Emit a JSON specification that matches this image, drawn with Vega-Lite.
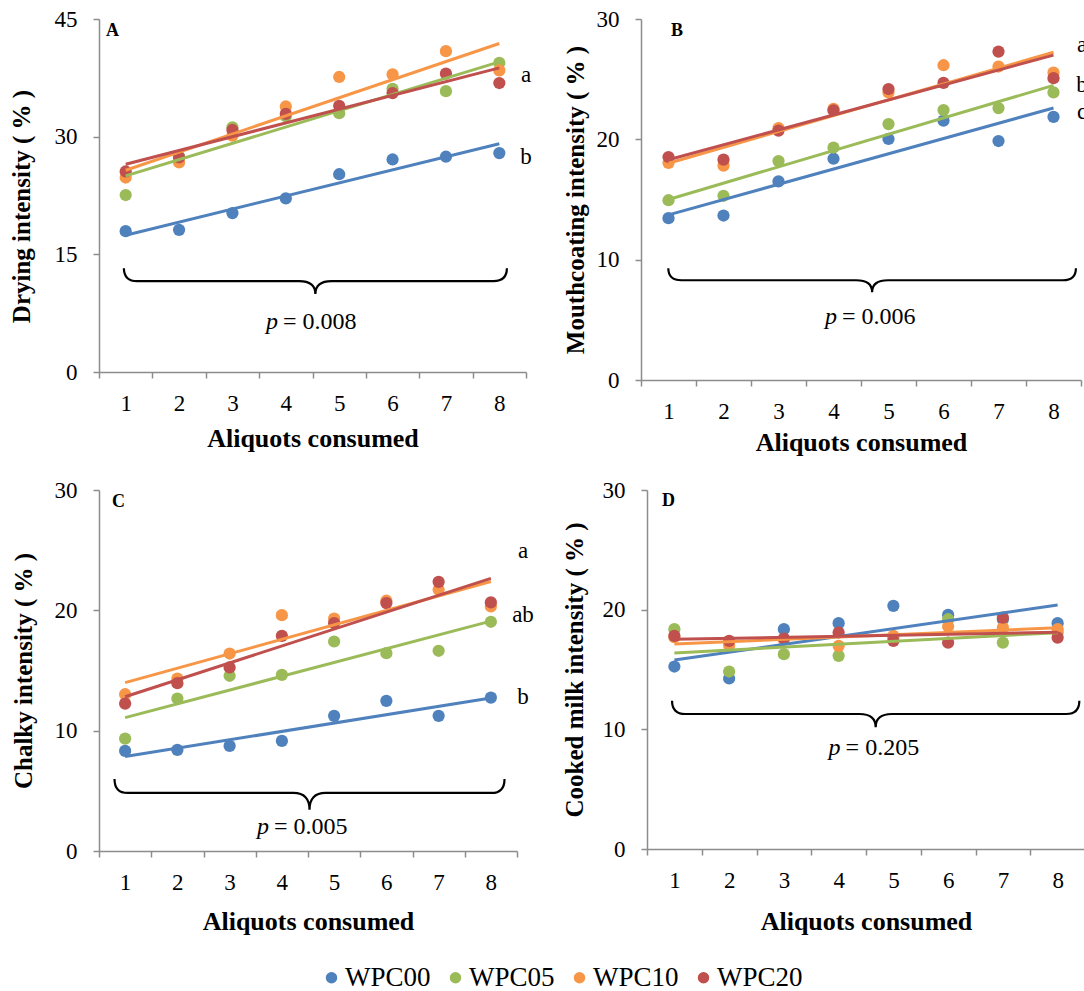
{
  "$schema": "https://vega.github.io/schema/vega-lite/v6.json",
  "padding": {"left": 9, "top": 8, "right": 0, "bottom": 0},
  "background": "white",
  "datasets": {
    "pts": [
      {"panel": "A", "series": "WPC00", "x": 1, "y": 17.95}, {"panel": "A", "series": "WPC00", "x": 2, "y": 18.12}, {"panel": "A", "series": "WPC00", "x": 3, "y": 20.26}, {"panel": "A", "series": "WPC00", "x": 4, "y": 22.14}, {"panel": "A", "series": "WPC00", "x": 5, "y": 25.21}, {"panel": "A", "series": "WPC00", "x": 6, "y": 27.09}, {"panel": "A", "series": "WPC00", "x": 7, "y": 27.44}, {"panel": "A", "series": "WPC00", "x": 8, "y": 27.91},
      {"panel": "A", "series": "WPC05", "x": 1, "y": 22.56}, {"panel": "A", "series": "WPC05", "x": 2, "y": 27.5}, {"panel": "A", "series": "WPC05", "x": 3, "y": 31.2}, {"panel": "A", "series": "WPC05", "x": 4, "y": 32.6}, {"panel": "A", "series": "WPC05", "x": 5, "y": 33.0}, {"panel": "A", "series": "WPC05", "x": 6, "y": 36.1}, {"panel": "A", "series": "WPC05", "x": 7, "y": 35.8}, {"panel": "A", "series": "WPC05", "x": 8, "y": 39.4},
      {"panel": "A", "series": "WPC10", "x": 1, "y": 24.79}, {"panel": "A", "series": "WPC10", "x": 2, "y": 26.71}, {"panel": "A", "series": "WPC10", "x": 3, "y": 30.13}, {"panel": "A", "series": "WPC10", "x": 4, "y": 33.85}, {"panel": "A", "series": "WPC10", "x": 5, "y": 37.61}, {"panel": "A", "series": "WPC10", "x": 6, "y": 37.95}, {"panel": "A", "series": "WPC10", "x": 7, "y": 40.9}, {"panel": "A", "series": "WPC10", "x": 8, "y": 38.46},
      {"panel": "A", "series": "WPC20", "x": 1, "y": 25.56}, {"panel": "A", "series": "WPC20", "x": 2, "y": 27.35}, {"panel": "A", "series": "WPC20", "x": 3, "y": 30.85}, {"panel": "A", "series": "WPC20", "x": 4, "y": 32.91}, {"panel": "A", "series": "WPC20", "x": 5, "y": 33.93}, {"panel": "A", "series": "WPC20", "x": 6, "y": 35.56}, {"panel": "A", "series": "WPC20", "x": 7, "y": 38.03}, {"panel": "A", "series": "WPC20", "x": 8, "y": 36.84},
      {"panel": "B", "series": "WPC00", "x": 1, "y": 13.45}, {"panel": "B", "series": "WPC00", "x": 2, "y": 13.67}, {"panel": "B", "series": "WPC00", "x": 3, "y": 16.5}, {"panel": "B", "series": "WPC00", "x": 4, "y": 18.39}, {"panel": "B", "series": "WPC00", "x": 5, "y": 20.03}, {"panel": "B", "series": "WPC00", "x": 6, "y": 21.55}, {"panel": "B", "series": "WPC00", "x": 7, "y": 19.86}, {"panel": "B", "series": "WPC00", "x": 8, "y": 21.86},
      {"panel": "B", "series": "WPC05", "x": 1, "y": 14.94}, {"panel": "B", "series": "WPC05", "x": 2, "y": 15.31}, {"panel": "B", "series": "WPC05", "x": 3, "y": 18.19}, {"panel": "B", "series": "WPC05", "x": 4, "y": 19.32}, {"panel": "B", "series": "WPC05", "x": 5, "y": 21.27}, {"panel": "B", "series": "WPC05", "x": 6, "y": 22.43}, {"panel": "B", "series": "WPC05", "x": 7, "y": 22.6}, {"panel": "B", "series": "WPC05", "x": 8, "y": 23.9},
      {"panel": "B", "series": "WPC10", "x": 1, "y": 18.05}, {"panel": "B", "series": "WPC10", "x": 2, "y": 17.82}, {"panel": "B", "series": "WPC10", "x": 3, "y": 20.93}, {"panel": "B", "series": "WPC10", "x": 4, "y": 22.54}, {"panel": "B", "series": "WPC10", "x": 5, "y": 23.9}, {"panel": "B", "series": "WPC10", "x": 6, "y": 26.16}, {"panel": "B", "series": "WPC10", "x": 7, "y": 26.05}, {"panel": "B", "series": "WPC10", "x": 8, "y": 25.54},
      {"panel": "B", "series": "WPC20", "x": 1, "y": 18.53}, {"panel": "B", "series": "WPC20", "x": 2, "y": 18.31}, {"panel": "B", "series": "WPC20", "x": 3, "y": 20.73}, {"panel": "B", "series": "WPC20", "x": 4, "y": 22.4}, {"panel": "B", "series": "WPC20", "x": 5, "y": 24.18}, {"panel": "B", "series": "WPC20", "x": 6, "y": 24.69}, {"panel": "B", "series": "WPC20", "x": 7, "y": 27.29}, {"panel": "B", "series": "WPC20", "x": 8, "y": 25.08},
      {"panel": "C", "series": "WPC00", "x": 1, "y": 8.32}, {"panel": "C", "series": "WPC00", "x": 2, "y": 8.4}, {"panel": "C", "series": "WPC00", "x": 3, "y": 8.73}, {"panel": "C", "series": "WPC00", "x": 4, "y": 9.15}, {"panel": "C", "series": "WPC00", "x": 5, "y": 11.23}, {"panel": "C", "series": "WPC00", "x": 6, "y": 12.48}, {"panel": "C", "series": "WPC00", "x": 7, "y": 11.23}, {"panel": "C", "series": "WPC00", "x": 8, "y": 12.75},
      {"panel": "C", "series": "WPC05", "x": 1, "y": 9.34}, {"panel": "C", "series": "WPC05", "x": 2, "y": 12.67}, {"panel": "C", "series": "WPC05", "x": 3, "y": 14.56}, {"panel": "C", "series": "WPC05", "x": 4, "y": 14.64}, {"panel": "C", "series": "WPC05", "x": 5, "y": 17.41}, {"panel": "C", "series": "WPC05", "x": 6, "y": 16.44}, {"panel": "C", "series": "WPC05", "x": 7, "y": 16.64}, {"panel": "C", "series": "WPC05", "x": 8, "y": 19.05},
      {"panel": "C", "series": "WPC10", "x": 1, "y": 13.03}, {"panel": "C", "series": "WPC10", "x": 2, "y": 14.33}, {"panel": "C", "series": "WPC10", "x": 3, "y": 16.41}, {"panel": "C", "series": "WPC10", "x": 4, "y": 19.6}, {"panel": "C", "series": "WPC10", "x": 5, "y": 19.32}, {"panel": "C", "series": "WPC10", "x": 6, "y": 20.8}, {"panel": "C", "series": "WPC10", "x": 7, "y": 21.71}, {"panel": "C", "series": "WPC10", "x": 8, "y": 20.32},
      {"panel": "C", "series": "WPC20", "x": 1, "y": 12.25}, {"panel": "C", "series": "WPC20", "x": 2, "y": 13.95}, {"panel": "C", "series": "WPC20", "x": 3, "y": 15.25}, {"panel": "C", "series": "WPC20", "x": 4, "y": 17.88}, {"panel": "C", "series": "WPC20", "x": 5, "y": 18.94}, {"panel": "C", "series": "WPC20", "x": 6, "y": 20.6}, {"panel": "C", "series": "WPC20", "x": 7, "y": 22.37}, {"panel": "C", "series": "WPC20", "x": 8, "y": 20.66},
      {"panel": "D", "series": "WPC00", "x": 1, "y": 15.25}, {"panel": "D", "series": "WPC00", "x": 2, "y": 14.25}, {"panel": "D", "series": "WPC00", "x": 3, "y": 18.37}, {"panel": "D", "series": "WPC00", "x": 4, "y": 18.87}, {"panel": "D", "series": "WPC00", "x": 5, "y": 20.32}, {"panel": "D", "series": "WPC00", "x": 6, "y": 19.56}, {"panel": "D", "series": "WPC00", "x": 7, "y": 19.2}, {"panel": "D", "series": "WPC00", "x": 8, "y": 18.87},
      {"panel": "D", "series": "WPC05", "x": 1, "y": 18.37}, {"panel": "D", "series": "WPC05", "x": 2, "y": 14.83}, {"panel": "D", "series": "WPC05", "x": 3, "y": 16.28}, {"panel": "D", "series": "WPC05", "x": 4, "y": 16.14}, {"panel": "D", "series": "WPC05", "x": 5, "y": 17.67}, {"panel": "D", "series": "WPC05", "x": 6, "y": 19.2}, {"panel": "D", "series": "WPC05", "x": 7, "y": 17.25}, {"panel": "D", "series": "WPC05", "x": 8, "y": 18.09},
      {"panel": "D", "series": "WPC10", "x": 1, "y": 17.7}, {"panel": "D", "series": "WPC10", "x": 2, "y": 17.03}, {"panel": "D", "series": "WPC10", "x": 3, "y": 17.5}, {"panel": "D", "series": "WPC10", "x": 4, "y": 16.98}, {"panel": "D", "series": "WPC10", "x": 5, "y": 17.81}, {"panel": "D", "series": "WPC10", "x": 6, "y": 18.59}, {"panel": "D", "series": "WPC10", "x": 7, "y": 18.5}, {"panel": "D", "series": "WPC10", "x": 8, "y": 18.37},
      {"panel": "D", "series": "WPC20", "x": 1, "y": 17.81}, {"panel": "D", "series": "WPC20", "x": 2, "y": 17.39}, {"panel": "D", "series": "WPC20", "x": 3, "y": 17.59}, {"panel": "D", "series": "WPC20", "x": 4, "y": 18.09}, {"panel": "D", "series": "WPC20", "x": 5, "y": 17.39}, {"panel": "D", "series": "WPC20", "x": 6, "y": 17.25}, {"panel": "D", "series": "WPC20", "x": 7, "y": 19.34}, {"panel": "D", "series": "WPC20", "x": 8, "y": 17.67}
    ],
    "braces": [
      {"panel": "A", "x": 4.554, "y": 11.58},
      {"panel": "B", "x": 4.702, "y": 8.29},
      {"panel": "C", "x": 4.529, "y": 4.71},
      {"panel": "D", "x": 4.677, "y": 11.28}
    ],
    "pvals": [
      {"panel": "A", "x": 3.854, "y": 6.34, "t": "= 0.008"},
      {"panel": "B", "x": 4.064, "y": 5.26, "t": "= 0.006"},
      {"panel": "C", "x": 3.754, "y": 1.97, "t": "= 0.005"},
      {"panel": "D", "x": 4.036, "y": 8.41, "t": "= 0.205"}
    ],
    "groups": [
      {"panel": "A", "x": 8.5, "y": 36.93, "label": "a"},
      {"panel": "A", "x": 8.5, "y": 26.52, "label": "b"},
      {"panel": "B", "x": 8.52, "y": 27.23, "label": "a"},
      {"panel": "B", "x": 8.52, "y": 23.93, "label": "b"},
      {"panel": "B", "x": 8.52, "y": 21.69, "label": "c"},
      {"panel": "C", "x": 8.615, "y": 24.33, "label": "a"},
      {"panel": "C", "x": 8.615, "y": 19.06, "label": "ab"},
      {"panel": "C", "x": 8.615, "y": 12.22, "label": "b"}
    ],
    "letters": [
      {"panel": "A", "x": 0.631, "y": 42.83, "label": "A"},
      {"panel": "B", "x": 1.045, "y": 28.61, "label": "B"},
      {"panel": "C", "x": 0.749, "y": 28.59, "label": "C"},
      {"panel": "D", "x": 0.774, "y": 28.66, "label": "D"}
    ]
  },
  "vconcat": [
    {
      "hconcat": [
        {
          "width": 427, "height": 353,
          "encoding": {
            "x": {"field": "x", "type": "quantitative", "scale": {"domain": [0.5, 8.5], "nice": false, "zero": false}, "axis": {"title": "Aliquots consumed", "values": [0.5, 1.5, 2.5, 3.5, 4.5, 5.5, 6.5, 7.5, 8.5], "labelExpr": "datum.value < 8 ? '' + (datum.value + 0.5) : ''", "labelOffset": 26.7, "labelFlush": false, "labelPadding": 14, "titlePadding": 10, "titleFontSize": 26}},
            "y": {"field": "y", "type": "quantitative", "scale": {"domain": [0, 45], "nice": false}, "axis": {"title": "Drying intensity ( % )", "values": [0, 15, 30, 45], "labelPadding": 16, "titlePadding": 20, "titleY": 187}}
          },
          "layer": [
            {"data": {"name": "pts"}, "transform": [{"filter": "datum.panel === 'A'"}], "mark": {"type": "circle", "size": 150, "opacity": 1},
             "encoding": {"color": {"field": "series", "type": "nominal", "scale": {"domain": ["WPC00", "WPC05", "WPC10", "WPC20"], "range": ["#4F81BD", "#9BBB59", "#F79646", "#C0504D"]},
               "legend": {"title": null, "orient": "none", "legendX": 219, "legendY": 945, "direction": "horizontal", "columns": 4, "symbolType": "circle", "symbolSize": 100, "labelFont": "Liberation Serif", "labelFontSize": 27, "labelColor": "#000", "labelOffset": 0, "columnPadding": 11, "labelLimit": 300, "padding": 0}}}},
            {"data": {"name": "pts"}, "transform": [{"filter": "datum.panel === 'A'"}, {"regression": "y", "on": "x", "groupby": ["series"], "extent": [1, 8]}], "mark": {"type": "line", "strokeWidth": 3},
             "encoding": {"color": {"field": "series", "type": "nominal", "legend": null}}},
            {"data": {"name": "braces"}, "transform": [{"filter": "datum.panel === 'A'"}], "mark": {"type": "point", "shape": "M -1 -0.067 Q -1 0 -0.93 0 L -0.084 0 Q 0 0 0 0.067 Q 0 0 0.084 0 L 0.93 0 Q 1 0 1 -0.067", "size": 146689, "filled": false, "stroke": "#000", "strokeWidth": 2.2, "opacity": 1}},
            {"data": {"name": "pvals"}, "transform": [{"filter": "datum.panel === 'A'"}], "mark": {"type": "text", "text": "p", "align": "right", "baseline": "middle", "font": "Liberation Serif", "fontStyle": "italic", "fontSize": 24, "color": "#000"}},
            {"data": {"name": "pvals"}, "transform": [{"filter": "datum.panel === 'A'"}], "mark": {"type": "text", "align": "left", "baseline": "middle", "dx": 5, "font": "Liberation Serif", "fontSize": 24, "color": "#000"}, "encoding": {"text": {"field": "t"}}},
            {"data": {"name": "groups"}, "transform": [{"filter": "datum.panel === 'A'"}], "mark": {"type": "text", "align": "center", "baseline": "alphabetic", "font": "Liberation Serif", "fontSize": 23, "color": "#000"}, "encoding": {"text": {"field": "label"}}},
            {"data": {"name": "letters"}, "transform": [{"filter": "datum.panel === 'A'"}], "mark": {"type": "text", "align": "left", "baseline": "alphabetic", "font": "Liberation Serif", "fontWeight": "bold", "fontSize": 18, "color": "#000"}, "encoding": {"text": {"field": "label"}}}
          ]
        },
        {
          "width": 440, "height": 361,
          "encoding": {
            "x": {"field": "x", "type": "quantitative", "scale": {"domain": [0.5, 8.5], "nice": false, "zero": false}, "axis": {"title": "Aliquots consumed", "values": [0.5, 1.5, 2.5, 3.5, 4.5, 5.5, 6.5, 7.5, 8.5], "labelExpr": "datum.value < 8 ? '' + (datum.value + 0.5) : ''", "labelOffset": 27.5, "labelFlush": false, "labelPadding": 14, "titlePadding": 6, "titleFontSize": 26}},
            "y": {"field": "y", "type": "quantitative", "scale": {"domain": [0, 30], "nice": false}, "axis": {"title": "Mouthcoating intensity ( % )", "values": [0, 10, 20, 30], "labelPadding": 16, "titlePadding": 8}}
          },
          "layer": [
            {"data": {"name": "pts"}, "transform": [{"filter": "datum.panel === 'B'"}], "mark": {"type": "circle", "size": 150, "opacity": 1},
             "encoding": {"color": {"field": "series", "type": "nominal", "scale": {"domain": ["WPC00", "WPC05", "WPC10", "WPC20"], "range": ["#4F81BD", "#9BBB59", "#F79646", "#C0504D"]},
               "legend": {"title": null, "orient": "none", "legendX": 219, "legendY": 945, "direction": "horizontal", "columns": 4, "symbolType": "circle", "symbolSize": 100, "labelFont": "Liberation Serif", "labelFontSize": 27, "labelColor": "#000", "labelOffset": 0, "columnPadding": 11, "labelLimit": 300, "padding": 0}}}},
            {"data": {"name": "pts"}, "transform": [{"filter": "datum.panel === 'B'"}, {"regression": "y", "on": "x", "groupby": ["series"], "extent": [1, 8]}], "mark": {"type": "line", "strokeWidth": 3},
             "encoding": {"color": {"field": "series", "type": "nominal", "legend": null}}},
            {"data": {"name": "braces"}, "transform": [{"filter": "datum.panel === 'B'"}], "mark": {"type": "point", "shape": "M -1 -0.059 Q -1 0 -0.936 0 L -0.078 0 Q 0 0 0 0.059 Q 0 0 0.078 0 L 0.936 0 Q 1 0 1 -0.059", "size": 166138, "filled": false, "stroke": "#000", "strokeWidth": 2.2, "opacity": 1}},
            {"data": {"name": "pvals"}, "transform": [{"filter": "datum.panel === 'B'"}], "mark": {"type": "text", "text": "p", "align": "right", "baseline": "middle", "font": "Liberation Serif", "fontStyle": "italic", "fontSize": 24, "color": "#000"}},
            {"data": {"name": "pvals"}, "transform": [{"filter": "datum.panel === 'B'"}], "mark": {"type": "text", "align": "left", "baseline": "middle", "dx": 5, "font": "Liberation Serif", "fontSize": 24, "color": "#000"}, "encoding": {"text": {"field": "t"}}},
            {"data": {"name": "groups"}, "transform": [{"filter": "datum.panel === 'B'"}], "mark": {"type": "text", "align": "center", "baseline": "alphabetic", "font": "Liberation Serif", "fontSize": 23, "color": "#000"}, "encoding": {"text": {"field": "label"}}},
            {"data": {"name": "letters"}, "transform": [{"filter": "datum.panel === 'B'"}], "mark": {"type": "text", "align": "left", "baseline": "alphabetic", "font": "Liberation Serif", "fontWeight": "bold", "fontSize": 18, "color": "#000"}, "encoding": {"text": {"field": "label"}}}
          ]
        }
      ],
      "spacing": 115,
      "bounds": "flush"
    },
    {
      "hconcat": [
        {
          "width": 418, "height": 361,
          "encoding": {
            "x": {"field": "x", "type": "quantitative", "scale": {"domain": [0.5, 8.5], "nice": false, "zero": false}, "axis": {"title": "Aliquots consumed", "values": [0.5, 1.5, 2.5, 3.5, 4.5, 5.5, 6.5, 7.5, 8.5], "labelExpr": "datum.value < 8 ? '' + (datum.value + 0.5) : ''", "labelOffset": 26.1, "labelFlush": false, "labelPadding": 14, "titlePadding": 14, "titleFontSize": 26}},
            "y": {"field": "y", "type": "quantitative", "scale": {"domain": [0, 30], "nice": false}, "axis": {"title": "Chalky intensity ( % )", "values": [0, 10, 20, 30], "labelPadding": 16, "titlePadding": 18}}
          },
          "layer": [
            {"data": {"name": "pts"}, "transform": [{"filter": "datum.panel === 'C'"}], "mark": {"type": "circle", "size": 150, "opacity": 1},
             "encoding": {"color": {"field": "series", "type": "nominal", "scale": {"domain": ["WPC00", "WPC05", "WPC10", "WPC20"], "range": ["#4F81BD", "#9BBB59", "#F79646", "#C0504D"]},
               "legend": {"title": null, "orient": "none", "legendX": 219, "legendY": 945, "direction": "horizontal", "columns": 4, "symbolType": "circle", "symbolSize": 100, "labelFont": "Liberation Serif", "labelFontSize": 27, "labelColor": "#000", "labelOffset": 0, "columnPadding": 11, "labelLimit": 300, "padding": 0}}}},
            {"data": {"name": "pts"}, "transform": [{"filter": "datum.panel === 'C'"}, {"regression": "y", "on": "x", "groupby": ["series"], "extent": [1, 8]}], "mark": {"type": "line", "strokeWidth": 3},
             "encoding": {"color": {"field": "series", "type": "nominal", "legend": null}}},
            {"data": {"name": "braces"}, "transform": [{"filter": "datum.panel === 'C'"}], "mark": {"type": "point", "shape": "M -1 -0.079 Q -1 -0.007 -0.933 -0.007 L -0.082 -0.007 Q 0 -0.007 0 0.079 Q 0 -0.007 0.082 -0.007 L 0.933 -0.007 Q 1 -0.007 1 -0.079", "size": 152100, "filled": false, "stroke": "#000", "strokeWidth": 2.2, "opacity": 1}},
            {"data": {"name": "pvals"}, "transform": [{"filter": "datum.panel === 'C'"}], "mark": {"type": "text", "text": "p", "align": "right", "baseline": "middle", "font": "Liberation Serif", "fontStyle": "italic", "fontSize": 24, "color": "#000"}},
            {"data": {"name": "pvals"}, "transform": [{"filter": "datum.panel === 'C'"}], "mark": {"type": "text", "align": "left", "baseline": "middle", "dx": 5, "font": "Liberation Serif", "fontSize": 24, "color": "#000"}, "encoding": {"text": {"field": "t"}}},
            {"data": {"name": "groups"}, "transform": [{"filter": "datum.panel === 'C'"}], "mark": {"type": "text", "align": "center", "baseline": "alphabetic", "font": "Liberation Serif", "fontSize": 23, "color": "#000"}, "encoding": {"text": {"field": "label"}}},
            {"data": {"name": "letters"}, "transform": [{"filter": "datum.panel === 'C'"}], "mark": {"type": "text", "align": "left", "baseline": "alphabetic", "font": "Liberation Serif", "fontWeight": "bold", "fontSize": 18, "color": "#000"}, "encoding": {"text": {"field": "label"}}}
          ]
        },
        {
          "width": 438, "height": 359,
          "encoding": {
            "x": {"field": "x", "type": "quantitative", "scale": {"domain": [0.5, 8.5], "nice": false, "zero": false}, "axis": {"title": "Aliquots consumed", "values": [0.5, 1.5, 2.5, 3.5, 4.5, 5.5, 6.5, 7.5, 8.5], "labelExpr": "datum.value < 8 ? '' + (datum.value + 0.5) : ''", "labelOffset": 27.4, "labelFlush": false, "labelPadding": 14, "titlePadding": 16, "titleFontSize": 26}},
            "y": {"field": "y", "type": "quantitative", "scale": {"domain": [0, 30], "nice": false}, "axis": {"title": "Cooked milk intensity ( % )", "values": [0, 10, 20, 30], "labelPadding": 16, "titlePadding": 15}}
          },
          "layer": [
            {"data": {"name": "pts"}, "transform": [{"filter": "datum.panel === 'D'"}], "mark": {"type": "circle", "size": 150, "opacity": 1},
             "encoding": {"color": {"field": "series", "type": "nominal", "scale": {"domain": ["WPC00", "WPC05", "WPC10", "WPC20"], "range": ["#4F81BD", "#9BBB59", "#F79646", "#C0504D"]},
               "legend": {"title": null, "orient": "none", "legendX": 219, "legendY": 945, "direction": "horizontal", "columns": 4, "symbolType": "circle", "symbolSize": 100, "labelFont": "Liberation Serif", "labelFontSize": 27, "labelColor": "#000", "labelOffset": 0, "columnPadding": 11, "labelLimit": 300, "padding": 0}}}},
            {"data": {"name": "pts"}, "transform": [{"filter": "datum.panel === 'D'"}, {"regression": "y", "on": "x", "groupby": ["series"], "extent": [1, 8]}], "mark": {"type": "line", "strokeWidth": 3},
             "encoding": {"color": {"field": "series", "type": "nominal", "legend": null}}},
            {"data": {"name": "braces"}, "transform": [{"filter": "datum.panel === 'D'"}], "mark": {"type": "point", "shape": "M -1 -0.065 Q -1 0 -0.936 0 L -0.079 0 Q 0 0 0 0.065 Q 0 0 0.079 0 L 0.936 0 Q 1 0 1 -0.065", "size": 165893, "filled": false, "stroke": "#000", "strokeWidth": 2.2, "opacity": 1}},
            {"data": {"name": "pvals"}, "transform": [{"filter": "datum.panel === 'D'"}], "mark": {"type": "text", "text": "p", "align": "right", "baseline": "middle", "font": "Liberation Serif", "fontStyle": "italic", "fontSize": 24, "color": "#000"}},
            {"data": {"name": "pvals"}, "transform": [{"filter": "datum.panel === 'D'"}], "mark": {"type": "text", "align": "left", "baseline": "middle", "dx": 5, "font": "Liberation Serif", "fontSize": 24, "color": "#000"}, "encoding": {"text": {"field": "t"}}},
            {"data": {"name": "letters"}, "transform": [{"filter": "datum.panel === 'D'"}], "mark": {"type": "text", "align": "left", "baseline": "alphabetic", "font": "Liberation Serif", "fontWeight": "bold", "fontSize": 18, "color": "#000"}, "encoding": {"text": {"field": "label"}}}
          ]
        }
      ],
      "spacing": 130,
      "bounds": "flush"
    }
  ],
  "spacing": 24,
  "resolve": {"scale": {"color": "shared"}, "legend": {"color": "shared"}},
  "config": {
    "view": {"stroke": null},
    "font": "Liberation Serif",
    "axis": {"grid": false, "domainColor": "#8c8c8c", "domainWidth": 1.5, "tickColor": "#8c8c8c", "tickWidth": 1.5, "tickSize": 6, "labelFont": "Liberation Serif", "labelFontSize": 23, "labelColor": "#000", "titleFont": "Liberation Serif", "titleFontSize": 25, "titleFontWeight": "bold", "titleColor": "#000"}
  }
}
